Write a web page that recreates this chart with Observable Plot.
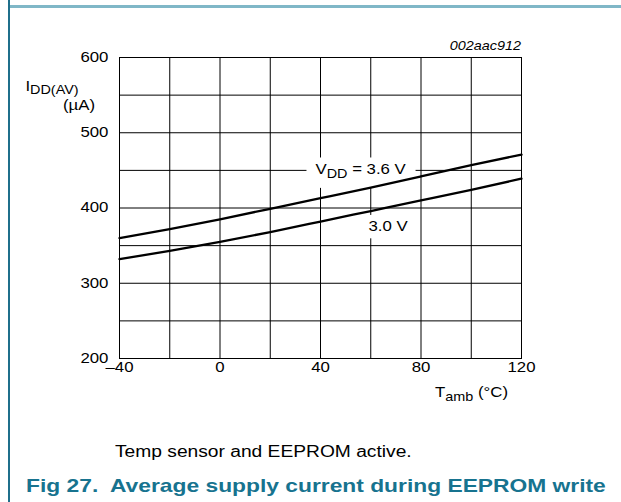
<!DOCTYPE html>
<html>
<head>
<meta charset="utf-8">
<script src="https://cdn.jsdelivr.net/npm/d3@7"></script>
<script src="https://cdn.jsdelivr.net/npm/@observablehq/plot@0.6"></script>
<style>
  body { margin: 0; background: #fff; font-family: "Liberation Sans", Arial, sans-serif; }
  #page { position: relative; width: 621px; height: 502px; overflow: hidden; background: #fff; }
  .rule-left { position: absolute; left: 8px; top: 0; width: 2px; height: 502px; background: #1f6f8b; }
  .rule-top { position: absolute; left: 10px; top: 5px; width: 611px; height: 3px; background: #80b7c7; }
  #chart { position: absolute; left: 0; top: 0; }
  .wide { transform: scaleX(1.2); transform-origin: left center; white-space: pre; position: absolute; }
  .note { left: 115px; top: 443px; font-size: 16px; color: #000; }
  .title { top: 475px; font-size: 19px; font-weight: bold; color: #17738f; }
</style>
</head>
<body>
<div id="page">
  <div class="rule-left"></div>
  <div class="rule-top"></div>
  <div id="chart"></div>
  <div class="wide note">Temp sensor and EEPROM active.</div>
  <div class="wide title" style="left:26px">Fig 27.</div>
  <div class="wide title" style="left:110px">Average supply current during EEPROM write</div>
</div>
<script>
// Ambient temperature (°C) and average supply current (µA)
const temps = [-40, -20, 0, 20, 40, 60, 80, 100, 120];
const idd36 = [360, 372, 385, 399, 413, 427, 442, 457, 471];
const idd30 = [332, 343, 355, 368, 382, 396, 410, 424, 439];

const xTickLabels = [-40, 0, 40, 80, 120];
const yTickLabels = [200, 300, 400, 500, 600];
const xGrid = [-40, -20, 0, 20, 40, 60, 80, 100, 120];
const yGrid = [200, 250, 300, 350, 400, 450, 500, 550, 600];

const series = [
  {label: "3.6", values: idd36},
  {label: "3.0", values: idd30}
];
const rows = series.flatMap(s => temps.map((t, i) => ({vdd: s.label, t, i: s.values[i]})));

const font = "Liberation Sans, Arial, sans-serif";

const chart = Plot.plot({
  width: 621,
  height: 420,
  marginLeft: 119,
  marginRight: 100,
  marginTop: 57,
  marginBottom: 62,
  style: {fontFamily: font, fontSize: "14px", color: "#000", background: "transparent", overflow: "visible"},
  x: {domain: [-40, 120]},
  y: {domain: [200, 600]},
  marks: [
    Plot.gridX(xGrid, {stroke: "#000", strokeOpacity: 1, strokeWidth: 1}),
    Plot.gridY(yGrid, {stroke: "#000", strokeOpacity: 1, strokeWidth: 1}),
    Plot.frame({stroke: "#000", strokeWidth: 1}),
    Plot.axisX(xTickLabels, {tickSize: 0, tickPadding: 4, fontSize: 14, label: null,
      tickFormat: d => d < 0 ? "\u2013" + Math.abs(d) : String(d)}),
    Plot.axisY(yTickLabels, {tickSize: 0, tickPadding: 11, fontSize: 14, label: null}),
    Plot.line(rows, {x: "t", y: "i", z: "vdd", stroke: "#000", strokeWidth: 2.3, curve: "natural"})
  ]
});
document.getElementById("chart").appendChild(chart);

const sx = chart.scale("x"), sy = chart.scale("y");
const svg = d3.select(chart);
// Label backgrounds sit above the grid but beneath the curves
const lineGroup = svg.select("g[aria-label='line']").node();
const bg = svg.insert("g", () => lineGroup).attr("fill", "#fff");
const g = svg.append("g").attr("font-family", font).attr("font-size", 14).attr("fill", "#000");

// Series labels
function seriesLabel(t, i, parts, padX, padTop, padBottom) {
  const text = g.append("text")
    .attr("x", sx.apply(t)).attr("y", sy.apply(i))
    .attr("text-anchor", "middle").attr("dy", "0.36em");
  let lowered = false;
  parts.forEach(([s, sub]) => {
    const ts = text.append("tspan").text(s);
    if (sub) { ts.attr("font-size", 12).attr("dy", 4); lowered = true; }
    else if (lowered) { ts.attr("dy", -4); lowered = false; }
  });
  return {text, padX, padTop, padBottom};
}
const labels = [
  seriesLabel(56.2, 451, [["V"], ["DD", true], [" = 3.6 V"]], 9, 4, 7),
  seriesLabel(67.1, 376, [["3.0 V"]], 5, 3, 5)
];

// Axis titles
const yl = g.append("text").attr("x", 52).attr("y", 91);
yl.append("tspan").text("I");
yl.append("tspan").text("DD(AV)").attr("font-size", 12).attr("dy", 3.5);
g.append("text").attr("x", 79).attr("y", 110).attr("text-anchor", "middle").text("(\u00b5A)");

const xl = g.append("text").attr("x", 508).attr("y", 397).attr("text-anchor", "end");
xl.append("tspan").text("T");
xl.append("tspan").text("amb").attr("font-size", 12).attr("dy", 4);
xl.append("tspan").text(" (\u00b0C)").attr("dy", -4);

g.append("text").attr("x", sx.apply(120)).attr("y", 50.5).attr("text-anchor", "end")
  .attr("font-style", "italic").attr("font-size", 12).text("002aac912");

// Widen every text horizontally around its anchor point
const STRETCH = 1.2;
svg.selectAll("text").each(function() {
  const bb = this.getBBox();
  const anchor = getComputedStyle(this).textAnchor;
  const ax = anchor === "end" ? bb.x + bb.width : anchor === "middle" ? bb.x + bb.width / 2 : bb.x;
  const prev = this.getAttribute("transform") || "";
  this.setAttribute("transform", `${prev} translate(${ax},0) scale(${STRETCH},1) translate(${-ax},0)`.trim());
});

// White boxes behind the series labels, knocking out the grid
labels.forEach(({text, padX, padTop, padBottom}) => {
  const bb = text.node().getBBox();
  const w = bb.width * STRETCH;
  const cx = bb.x + bb.width / 2;
  bg.append("rect")
    .attr("x", cx - w / 2 - padX).attr("y", bb.y - padTop)
    .attr("width", w + 2 * padX).attr("height", bb.height + padTop + padBottom);
});
</script>
</body>
</html>
